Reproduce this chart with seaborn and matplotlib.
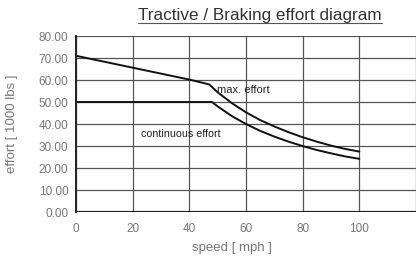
import pandas as pd
import numpy as np
import seaborn as sns
import matplotlib.pyplot as plt
from matplotlib.lines import Line2D

sns.set_style('white')
plt.rcParams['font.family'] = ['Liberation Sans', 'DejaVu Sans']

# values (speed in mph, effort in 1000 lbs)
max_speed = [0, 10, 20, 30, 40, 47, 50, 55, 60, 65, 70, 75, 80, 85, 90, 95, 100]
max_effort = [71.0, 68.3, 65.6, 62.9, 60.2, 58.0, 54.4, 49.5, 45.3, 41.8, 38.9,
              36.3, 34.0, 32.0, 30.2, 28.7, 27.5]
cont_speed = [0, 48, 50, 55, 60, 65, 70, 75, 80, 85, 90, 95, 100]
cont_effort = [50.0, 50.0, 48.0, 43.6, 40.0, 36.9, 34.3, 32.0, 30.0, 28.2,
               26.7, 25.3, 24.2]
x_ticks = [0, 20, 40, 60, 80, 100]
y_ticks = [0, 10, 20, 30, 40, 50, 60, 70, 80]

df = pd.concat([
    pd.DataFrame({'speed': max_speed, 'effort': max_effort, 'curve': 'max. effort'}),
    pd.DataFrame({'speed': cont_speed, 'effort': cont_effort, 'curve': 'continuous effort'}),
])

fig = plt.figure(figsize=(4.16, 2.59), dpi=100)
ax = fig.add_axes([0.183, 0.181, 0.817, 0.68])

sns.lineplot(data=df, x='speed', y='effort', units='curve', estimator=None,
             color='#111111', lw=1.4, ax=ax, legend=False, sort=False)

ax.set_xlim(0, 120)
ax.set_ylim(0, 80)
ax.set_xticks(x_ticks + [120])
ax.set_xticklabels([str(t) for t in x_ticks] + [''])
ax.set_yticks(y_ticks)
ax.set_yticklabels([f'{t:.2f}' for t in y_ticks])
ax.grid(True, color='#555555', lw=0.9)
ax.axhline(0, color='#222222', lw=1.6)
for s in ['top', 'right']:
    ax.spines[s].set_visible(False)
ax.spines['left'].set_color('#222222')
ax.spines['left'].set_linewidth(1.4)
ax.spines['bottom'].set_visible(False)
ax.tick_params(axis='both', labelsize=8.5, labelcolor='#777777', length=3,
               color='#333333', direction='inout')
ax.tick_params(axis='y', pad=4)
ax.tick_params(axis='x', pad=6)

ax.text(59, 55.5, 'max. effort', fontsize=8, color='#222222', ha='center', va='center')
ax.text(37, 35.5, 'continuous effort', fontsize=7.7, color='#222222', ha='center', va='center')

ax.set_xlabel('speed [ mph ]', fontsize=9.5, color='#777777')
ax.set_ylabel('effort [ 1000 lbs ]', fontsize=9.5, color='#777777')
ax.xaxis.set_label_coords(0.46, -0.17)
ax.yaxis.set_label_coords(-0.17, 0.5)

fig.text(0.625, 0.94, 'Tractive / Braking effort diagram', fontsize=12.3,
         color='#333333', ha='center', va='center')
fig.add_artist(Line2D([0.332, 0.918], [0.913, 0.913], color='#555555', lw=0.8))

fig.savefig('out.png', dpi=100)
